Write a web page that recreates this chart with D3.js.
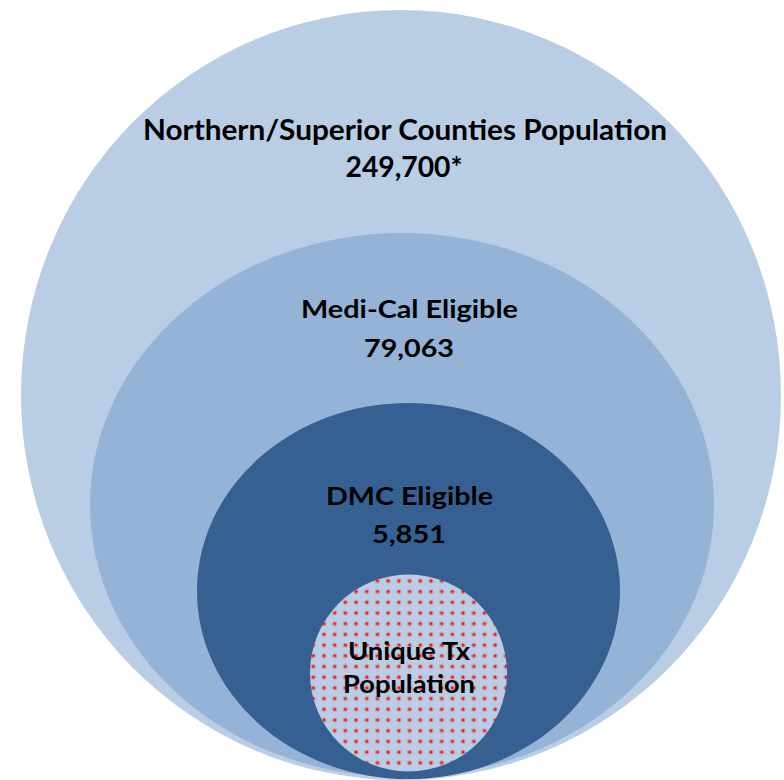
<!DOCTYPE html>
<html>
<head>
<meta charset="utf-8">
<script src="https://cdn.jsdelivr.net/npm/d3@7"></script>
<style>
  html, body { margin: 0; padding: 0; background: #ffffff; }
  svg { display: block; }
  text { font-family: Lato, "Open Sans", sans-serif; font-weight: 700; fill: #000; }
</style>
</head>
<body>
<svg id="chart" width="784" height="780"></svg>
<script>
// ---- data ----
const categories = ["Northern/Superior Counties Population", "Medi-Cal Eligible", "DMC Eligible", "Unique Tx Population"];
const populationValues = ["249,700*", "79,063", "5,851", ""];
const innerLabelLines = ["Unique Tx", "Population"];

// ---- layout (styles / geometry kept in code) ----
const svg = d3.select("#chart");
const W = 784, H = 780;

const layers = [
  { cx: 401,   cy: 395, rx: 380,   ry: 385, fill: "#b9cde5" },
  { cx: 402,   cy: 505, rx: 312,   ry: 272, fill: "#95b3d7" },
  { cx: 408.5, cy: 591, rx: 211.5, ry: 188, fill: "#366092" },
  { cx: 408.5, cy: 673, rx: 98.5,  ry: 98.5, fill: "url(#dots)" }
];

// dotted pattern for innermost circle
const defs = svg.append("defs");
const pat = defs.append("pattern")
  .attr("id", "dots")
  .attr("patternUnits", "userSpaceOnUse")
  .attr("width", 10.7).attr("height", 10.7);
pat.append("rect").attr("width", 10.7).attr("height", 10.7).attr("fill", "#b9cde5");
pat.append("circle").attr("cx", 3).attr("cy", 3.2).attr("r", 2.6).attr("fill", "#e8707a").attr("opacity", 0.45);
pat.append("circle").attr("cx", 3).attr("cy", 3.2).attr("r", 1.4).attr("fill", "#f01010");

svg.selectAll("ellipse.layer")
  .data(categories.map((c, i) => ({ name: c, value: populationValues[i], g: layers[i] })))
  .join("ellipse")
  .attr("class", "layer")
  .attr("cx", d => d.g.cx).attr("cy", d => d.g.cy)
  .attr("rx", d => d.g.rx).attr("ry", d => d.g.ry)
  .attr("fill", d => d.g.fill);

// text: [text, centerX, baselineY, fontSize, targetWidth]
function addText(str, x, y, size, width) {
  const t = svg.append("text")
    .attr("x", x).attr("y", y)
    .attr("text-anchor", "middle")
    .attr("font-size", size)
    .text(str);
  if (width) {
    t.attr("textLength", width).attr("lengthAdjust", "spacingAndGlyphs");
  }
  return t;
}

addText(categories[0], 405, 140, 28, 524);
addText(populationValues[0], 404, 177, 28, 117);
addText(categories[1], 409.5, 318, 25, 217);
addText(populationValues[1], 409, 357, 25, 90);
addText(categories[2], 409.5, 505, 25, 167);
addText(populationValues[2], 409, 543, 25, 74);
addText(innerLabelLines[0], 409, 660, 24, 122);
addText(innerLabelLines[1], 409, 693, 24, 132);
</script>
</body>
</html>
